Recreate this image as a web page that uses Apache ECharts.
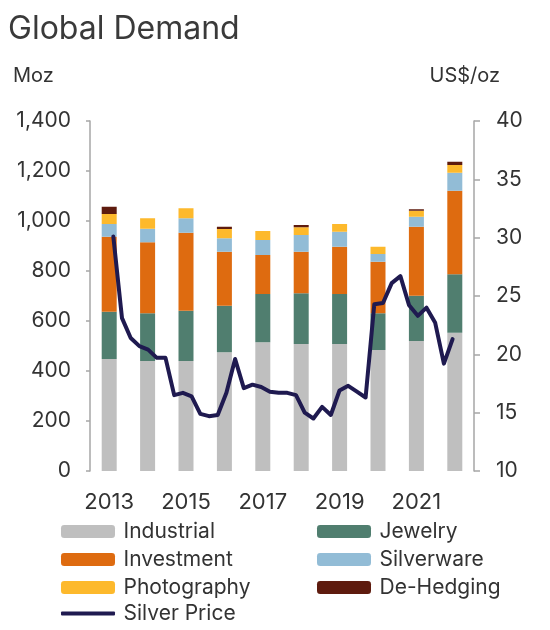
<!DOCTYPE html>
<html lang="en">
<head>
    <meta charset="utf-8">
    <title>Global Demand</title>
    <script src="https://cdn.jsdelivr.net/npm/echarts@6/dist/echarts.min.js"></script>
    <style type="text/css">
    html, body {
        margin: 0;
        padding: 0;
        background: #ffffff;
    }

    #chart {
        width: 550px;
        height: 630px;
    }
    </style>
</head>
<body>
    <div id="chart"></div>
    <script type="text/javascript">
    // 数据：年份与各需求分项（百万盎司）
    var years = ['2013', '2014', '2015', '2016', '2017', '2018', '2019', '2020', '2021', '2022'];
    var industrial = [448, 440, 440, 475, 515, 508, 508, 484, 520, 553];
    var jewelry = [189, 191, 201, 186, 193, 203, 200, 147, 181, 234];
    var investment = [300, 284, 312, 216, 156, 166, 189, 206, 276, 334];
    var silverware = [51, 54, 58, 54, 60, 67, 60, 31, 40, 72];
    var photography = [40, 42, 40, 37, 36, 31, 31, 29, 24, 31];
    var deHedging = [29, 0, 0, 9, 0, 9, 0, 0, 6, 13];

    // 银价（美元/盎司），按季度
    var silverPrice = [
        30.1, 23.1, 21.4, 20.7, 20.4, 19.7, 19.7, 16.5, 16.7, 16.4,
        14.9, 14.7, 14.8, 16.7, 19.6, 17.1, 17.4, 17.2, 16.8, 16.7,
        16.7, 16.5, 15.0, 14.5, 15.5, 14.8, 16.9, 17.3, 16.8, 16.3,
        24.3, 24.4, 26.1, 26.7, 24.2, 23.3, 24.0, 22.7, 19.2, 21.3
    ];

    var font = 'Inter, "Noto Sans", sans-serif';
    var textColor = '#333333';
    var lineColor = '#1f1a50';

    var chart = echarts.init(document.getElementById('chart'), null, { renderer: 'canvas' });

    function barSeries(name, values, color) {
        return {
            name: name,
            type: 'bar',
            stack: 'demand',
            barWidth: 15,
            data: values,
            itemStyle: { color: color },
            emphasis: { disabled: true }
        };
    }

    // 图例一列
    function legendColumn(left, top, names, itemHeight) {
        return {
            orient: 'vertical', left: left, top: top, padding: 0,
            itemWidth: 54, itemHeight: itemHeight, itemGap: 7,
            textStyle: { fontFamily: font, fontSize: 21, lineHeight: 20, color: textColor, padding: [0, 0, 0, 3.5] },
            data: names
        };
    }

    var legendSilver = legendColumn(61, 603, ['Silver Price'], 4);
    legendSilver.icon = 'roundRect';

    var option = {
        animation: false,
        textStyle: { fontFamily: font },
        title: [
            { text: 'Global Demand', left: 8, top: 13, padding: 0,
              textStyle: { fontFamily: font, fontSize: 32, fontWeight: 'normal', color: '#3a3a3a' } },
            { text: 'Moz', left: 13, top: 66, padding: 0,
              textStyle: { fontFamily: font, fontSize: 20, fontWeight: 'normal', color: textColor } },
            { text: 'US$/oz', right: 50, top: 66, padding: 0,
              textStyle: { fontFamily: font, fontSize: 20, fontWeight: 'normal', color: textColor } }
        ],
        legend: [
            legendColumn(61, 521, ['Industrial', 'Investment', 'Photography'], 13),
            legendColumn(317, 521, ['Jewelry', 'Silverware', 'De-Hedging'], 13),
            legendSilver
        ],
        grid: { left: 90, right: 76, top: 121, bottom: 159, outerBoundsMode: 'none' },
        xAxis: [
            {
                type: 'category',
                data: years,
                axisLine: { show: false },
                axisTick: { show: false },
                axisLabel: { interval: 1, margin: 20, fontSize: 22, color: textColor, fontFamily: font }
            },
            {
                // 银价按季度索引定位
                type: 'value',
                min: -2.68,
                max: 41.46,
                show: false
            }
        ],
        yAxis: [
            {
                type: 'value',
                min: 0, max: 1400, interval: 200,
                splitLine: { show: false },
                axisLine: { show: true, onZero: false, lineStyle: { color: '#a6a6a6', width: 1.5 } },
                axisTick: { show: true, length: 4, lineStyle: { color: '#a6a6a6', width: 1.5 } },
                axisLabel: {
                    margin: 19, fontSize: 21, color: textColor, fontFamily: font,
                    formatter: function (v) { return v.toLocaleString('en-US'); }
                }
            },
            {
                type: 'value',
                min: 10, max: 40, interval: 5,
                position: 'right',
                splitLine: { show: false },
                axisLine: { show: true, onZero: false, lineStyle: { color: '#a6a6a6', width: 1.5 } },
                axisTick: { show: true, length: 6, lineStyle: { color: '#a6a6a6', width: 1.5 } },
                axisLabel: { margin: 22, fontSize: 21, color: textColor, fontFamily: font }
            }
        ],
        series: [
            barSeries('Industrial', industrial, '#bfbfbf'),
            barSeries('Jewelry', jewelry, '#507e6f'),
            barSeries('Investment', investment, '#de6b10'),
            barSeries('Silverware', silverware, '#92bcd6'),
            barSeries('Photography', photography, '#fdb92c'),
            barSeries('De-Hedging', deHedging, '#5e1b0e'),
            {
                name: 'Silver Price',
                type: 'line',
                xAxisIndex: 1,
                yAxisIndex: 1,
                symbol: 'none',
                z: 10,
                data: silverPrice.map(function (p, i) { return [i, p]; }),
                lineStyle: { color: lineColor, width: 4, join: 'round', cap: 'round' },
                itemStyle: { color: lineColor },
                emphasis: { disabled: true }
            }
        ]
    };

    chart.setOption(option);
    </script>
</body>
</html>
